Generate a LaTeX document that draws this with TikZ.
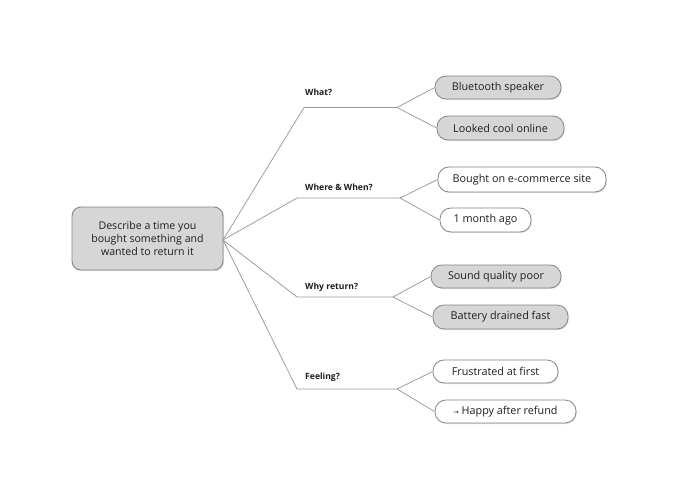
\documentclass[tikz,border=0pt]{standalone}
\usepackage{fontspec}
\setmainfont{Open Sans}
\newfontfamily\arrowfont{DejaVu Sans}
\usetikzlibrary{shadows}
\definecolor{boxfill}{HTML}{D6D6D6}
\definecolor{boxline}{HTML}{858585}
\definecolor{linkline}{HTML}{999999}
\definecolor{txt}{HTML}{1E1E1E}
\tikzset{
  rootbox/.style={draw=boxline, line width=0.9pt, fill=boxfill, rounded corners=9pt,
    minimum width=151pt, minimum height=63pt, align=center, font=\fontsize{10.6}{13}\selectfont,
    text=txt, drop shadow={shadow xshift=1pt, shadow yshift=-1.2pt, opacity=0.25}},
  leafgray/.style={draw=boxline, line width=0.8pt, fill=boxfill, rounded corners=11pt,
    minimum height=23pt, inner sep=0pt, font=\fontsize{10.8}{12}\selectfont, text=txt,
    drop shadow={shadow xshift=0.8pt, shadow yshift=-1pt, opacity=0.25}},
  leafwhite/.style={leafgray, fill=white},
  branchlabel/.style={anchor=west, inner sep=0pt, font=\bfseries\fontsize{8.6}{10}\selectfont, text=txt},
  link/.style={draw=linkline, line width=0.75pt}
}
\begin{document}
\begin{tikzpicture}[x=1pt,y=-1pt]
\useasboundingbox (0,0) rectangle (700,495);
\fill[white] (0,0) rectangle (700,495);

\node[rootbox] (root) at (147.5,238.5) {Describe a time you\\bought something and\\wanted to return it};

% branch corners and ends
\coordinate (c1) at (304,107.5); \coordinate (e1) at (397,107.5);
\coordinate (c2) at (297,198);   \coordinate (e2) at (400,198);
\coordinate (c3) at (297,297);   \coordinate (e3) at (393,297);
\coordinate (c4) at (297,389);   \coordinate (e4) at (397,389);
\coordinate (ro) at (223,240);

\node[branchlabel] (l1) at (305,92) {What?};
\node[branchlabel] (l2) at (305,187) {Where \& When?};
\node[branchlabel] (l3) at (305,287) {Why return?};
\node[branchlabel] (l4) at (305,377) {Feeling?};

\node[leafgray, minimum width=126pt] (b1) at (498,87.5) {Bluetooth speaker};
\node[leafgray, minimum width=127pt, minimum height=24pt] (b2) at (500.5,128) {Looked cool online};
\node[leafwhite, minimum width=168pt, minimum height=25pt] (w1) at (522,179.5) {Bought on e-commerce site};
\node[leafwhite, minimum width=91pt, minimum height=24pt] (w2) at (485.5,220) {1 month ago};
\node[leafgray, minimum width=130pt] (y1) at (496,276.5) {Sound quality poor};
\node[leafgray, minimum width=135pt, minimum height=24pt] (y2) at (500.5,317) {Battery drained fast};
\node[leafwhite, minimum width=125pt] (f1) at (495.5,371.5) {Frustrated at first};
\node[leafwhite, minimum width=141pt] (f2) at (505.5,411.5) {{\arrowfont\fontsize{6.5}{8}\selectfont→}\ Happy after refund};

\draw[link] (ro) -- (c1) -- (e1);
\draw[link] (ro) -- (c2) -- (e2);
\draw[link] (ro) -- (c3) -- (e3);
\draw[link] (ro) -- (c4) -- (e4);
\draw[link] (e1) -- (b1.west);
\draw[link] (e1) -- (b2.west);
\draw[link] (e2) -- (w1.west);
\draw[link] (e2) -- (w2.west);
\draw[link] (e3) -- (y1.west);
\draw[link] (e3) -- (y2.west);
\draw[link] (e4) -- (f1.west);
\draw[link] (e4) -- (f2.west);
\end{tikzpicture}
\end{document}
